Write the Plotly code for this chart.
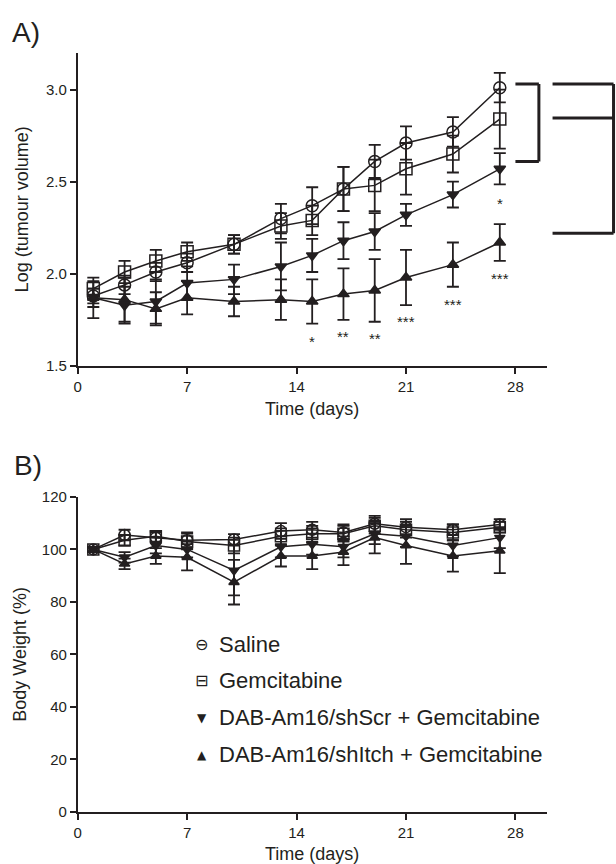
import plotly.graph_objects as go

# ---------------- data ----------------
days = [1, 3, 5, 7, 10, 13, 15, 17, 19, 21, 24, 27]
series_names = ["Saline", "Gemcitabine",
                "DAB-Am16/shScr + Gemcitabine", "DAB-Am16/shItch + Gemcitabine"]

# Panel A: log tumour volume
tv_saline = [1.88, 1.94, 2.01, 2.06, 2.16, 2.30, 2.37, 2.46, 2.61, 2.71, 2.77, 3.01]
tv_saline_se = [0.04, 0.05, 0.05, 0.05, 0.05, 0.08, 0.10, 0.12, 0.09, 0.09, 0.08, 0.08]
tv_gem = [1.92, 2.01, 2.07, 2.12, 2.16, 2.26, 2.29, 2.46, 2.48, 2.57, 2.65, 2.84]
tv_gem_se = [0.04, 0.06, 0.06, 0.05, 0.05, 0.07, 0.08, 0.12, 0.14, 0.14, 0.10, 0.16]
tv_scr = [1.87, 1.83, 1.85, 1.95, 1.97, 2.04, 2.10, 2.18, 2.23, 2.32, 2.43, 2.57]
tv_scr_se = [0.05, 0.10, 0.12, 0.09, 0.08, 0.13, 0.09, 0.10, 0.10, 0.06, 0.07, 0.085]
tv_itch = [1.87, 1.86, 1.81, 1.87, 1.85, 1.86, 1.85, 1.89, 1.91, 1.98, 2.05, 2.17]
tv_itch_se = [0.11, 0.12, 0.09, 0.09, 0.08, 0.11, 0.12, 0.14, 0.17, 0.15, 0.12, 0.10]

# significance marks (panel A)
sig_scr_days = [27]
sig_scr_y = [2.40]
sig_scr_text = ["*"]
sig_itch_days = [15, 17, 19, 21, 24, 27]
sig_itch_y = [1.65, 1.675, 1.665, 1.76, 1.85, 1.99]
sig_itch_text = ["*", "**", "**", "***", "***", "***"]

# Panel B: body weight (%)
bw_saline = [100, 105.5, 104.5, 103.5, 103.8, 107, 107.5, 106.5, 109.8, 108.5, 107.5, 109.5]
bw_saline_se = [1, 2, 2, 3, 2, 3, 3, 3, 3, 3, 2, 2]
bw_gem = [100, 103.5, 105, 103, 101.5, 105, 106, 106, 109, 107.5, 106.5, 108.5]
bw_gem_se = [1, 2, 2, 3, 3, 3, 3, 3, 3, 3, 3, 2]
bw_scr = [100, 97, 101.5, 100, 92, 101, 102, 101, 106, 105, 101.5, 104.5]
bw_scr_se = [1, 2, 3, 3, 9.5, 4, 4, 4, 4, 4, 4, 4]
bw_itch = [100, 94.5, 97.5, 97, 87.5, 97.5, 97.5, 99, 104.5, 101.5, 97.5, 99.5]
bw_itch_se = [1, 2, 3, 5, 8.5, 4, 5, 5, 6, 7, 6, 8.5]

x_ticks = [0, 7, 14, 21, 28]
a_ticks = [1.5, 2.0, 2.5, 3.0]
b_ticks = [0, 20, 40, 60, 80, 100, 120]

# ---------------- style ----------------
INK = "#231f20"
FONT = "Liberation Sans, Arial, Helvetica, sans-serif"
symbols = ["circle-open", "square-open", "triangle-down", "triangle-up"]
sizes = [12, 12, 10, 10]
legend_glyphs = ["\u2296", "\u229f", "\u25bc", "\u25b2"]
legend_glyph_sizes = [16, 16, 12, 12]

fig = go.Figure()

a_sets = [(tv_saline, tv_saline_se), (tv_gem, tv_gem_se), (tv_scr, tv_scr_se), (tv_itch, tv_itch_se)]
b_sets = [(bw_saline, bw_saline_se), (bw_gem, bw_gem_se), (bw_scr, bw_scr_se), (bw_itch, bw_itch_se)]

for (vals, se), name, sym, sz in zip(a_sets, series_names, symbols, sizes):
    fig.add_trace(go.Scatter(
        x=days, y=vals, name=name, mode="lines+markers", showlegend=False,
        xaxis="x", yaxis="y",
        line=dict(color=INK, width=1.5),
        marker=dict(symbol=sym, size=sz, color=INK, line=dict(color=INK, width=1.5)),
        error_y=dict(type="data", array=se, visible=True, color=INK, thickness=1.8, width=6),
    ))

for (vals, se), name, sym, sz in zip(b_sets, series_names, symbols, sizes):
    fig.add_trace(go.Scatter(
        x=days, y=vals, name=name, mode="lines+markers", showlegend=False,
        xaxis="x2", yaxis="y2",
        line=dict(color=INK, width=1.5),
        marker=dict(symbol=sym, size=sz - 1, color=INK, line=dict(color=INK, width=1.5)),
        error_y=dict(type="data", array=se, visible=True, color=INK, thickness=1.8, width=6),
    ))

axis_common = dict(
    showline=True, linecolor=INK, linewidth=1.6, showgrid=False, zeroline=False,
    ticks="outside", ticklen=6, tickwidth=1.5, tickcolor=INK, automargin=False,
    tickfont=dict(family=FONT, size=15, color=INK),
)
title_font = dict(family=FONT, size=18, color=INK)

fig.update_layout(
    width=616, height=864,
    margin=dict(l=0, r=0, t=0, b=0),
    paper_bgcolor="white", plot_bgcolor="white",
    font=dict(family=FONT, color=INK),
    xaxis=dict(axis_common, domain=[0.1261, 0.8875], range=[0, 30], tickvals=x_ticks,
               anchor="y", title=dict(text="Time (days)", font=title_font, standoff=9)),
    yaxis=dict(axis_common, domain=[0.5764, 0.9390], range=[1.5, 3.2], tickvals=a_ticks,
               tickformat=".1f", anchor="x",
               title=dict(text="Log (tumour volume)", font=title_font, standoff=13)),
    xaxis2=dict(axis_common, domain=[0.1261, 0.8875], range=[0, 30], tickvals=x_ticks,
                anchor="y2", title=dict(text="Time (days)", font=title_font, standoff=9)),
    yaxis2=dict(axis_common, domain=[0.0605, 0.4248], range=[0, 120], tickvals=b_ticks,
                anchor="x2",
                title=dict(text="Body Weight (%)", font=title_font, standoff=11)),
)

ann = []
# significance stars
for d, yv, t in zip(sig_scr_days + sig_itch_days, sig_scr_y + sig_itch_y, sig_scr_text + sig_itch_text):
    ann.append(dict(x=d, y=yv, xref="x", yref="y", text=t, showarrow=False,
                    font=dict(family=FONT, size=15, color=INK), yshift=-3))

# panel labels
ann.append(dict(x=0.016, y=0.962, xref="paper", yref="paper", text="A)", showarrow=False,
                xanchor="left", yanchor="middle", font=dict(family=FONT, size=28, color=INK)))
ann.append(dict(x=0.019, y=0.461, xref="paper", yref="paper", text="B)", showarrow=False,
                xanchor="left", yanchor="middle", font=dict(family=FONT, size=28, color=INK)))

# legend (inside panel B)
leg_y = [0.2535, 0.2122, 0.1693, 0.1262]
for g, gs, name, yy in zip(legend_glyphs, legend_glyph_sizes, series_names, leg_y):
    ann.append(dict(x=0.3274, y=yy, xref="paper", yref="paper", text=g, showarrow=False,
                    xanchor="center", yanchor="middle",
                    font=dict(family="DejaVu Sans", size=gs, color=INK)))
    ann.append(dict(x=0.3518, y=yy, xref="paper", yref="paper", text=name, showarrow=False,
                    xanchor="left", yanchor="middle",
                    font=dict(family=FONT, size=22, color=INK)))
fig.update_layout(annotations=ann)

# significance brackets (panel A)
br_lw = 3
bracket1 = [(28.0, 3.03, 29.5, 3.03), (29.5, 3.03, 29.5, 2.61), (28.0, 2.61, 29.5, 2.61)]
for x0, y0, x1, y1 in bracket1:
    fig.add_shape(type="line", xref="x", yref="y", x0=x0, y0=y0, x1=x1, y1=y1,
                  line=dict(color=INK, width=br_lw))
bracket2 = [(0.897, 3.03, 0.996, 3.03), (0.897, 2.846, 0.996, 2.846),
            (0.897, 2.22, 0.996, 2.22), (0.996, 3.03, 0.996, 2.22)]
for x0, y0, x1, y1 in bracket2:
    fig.add_shape(type="line", xref="paper", yref="y", x0=x0, y0=y0, x1=x1, y1=y1,
                  line=dict(color=INK, width=br_lw))

fig.write_html(
    "out.html",
    config={"displayModeBar": False},
    post_script="document.body.style.margin='0';document.body.style.overflow='hidden';",
)
